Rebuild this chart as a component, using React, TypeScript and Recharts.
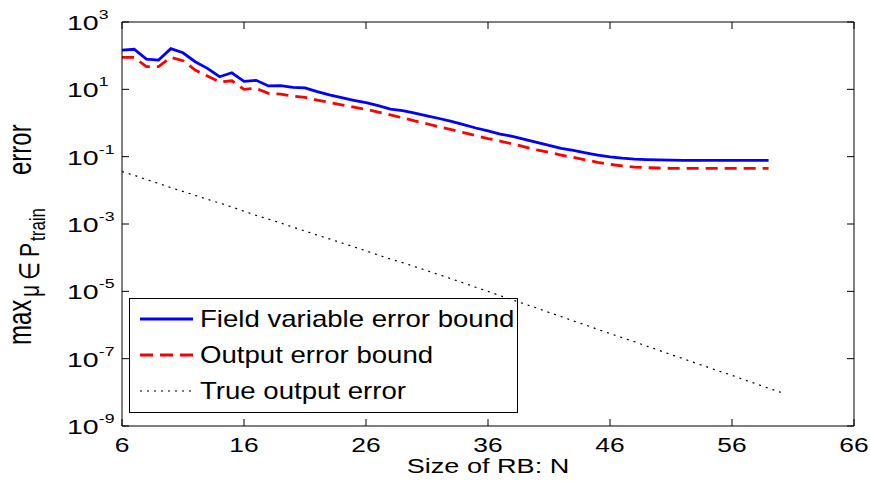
import React from "react";
import { LineChart, Line, XAxis, YAxis } from "recharts";

const sizeN = [6, 7, 8, 9, 10, 11, 12, 13, 14, 15, 16, 17, 18, 19, 20, 21, 22, 23, 24, 25, 26, 27, 28, 29, 30, 31, 32, 33, 34, 35, 36, 37, 38, 39, 40, 41, 42, 43, 44, 45, 46, 47, 48, 49, 50, 51, 52, 53, 54, 55, 56, 57, 58, 59, 60];

const fieldBound = [147, 155, 79, 74, 161, 122, 66, 42, 23.7, 31, 17.3, 18.5, 12.6, 12.8, 11.5, 11.0, 8.5, 6.8, 5.65, 4.73, 4.0, 3.27, 2.6, 2.33, 1.98, 1.64, 1.36, 1.11, 0.9, 0.71, 0.58, 0.47, 0.4, 0.324, 0.267, 0.215, 0.177, 0.153, 0.13, 0.112, 0.098, 0.09, 0.085, 0.082, 0.08, 0.079, 0.078, 0.078, 0.078, 0.078, 0.078, 0.078, 0.078, 0.078];

const outputBound = [89, 89, 47, 47, 89, 71, 37.5, 25, 16.5, 18, 10, 10.7, 7.6, 7.2, 6.3, 5.8, 4.8, 4.1, 3.45, 2.95, 2.55, 2.1, 1.75, 1.42, 1.15, 0.95, 0.77, 0.64, 0.52, 0.42, 0.345, 0.29, 0.24, 0.195, 0.16, 0.134, 0.112, 0.095, 0.08, 0.068, 0.059, 0.053, 0.049, 0.047, 0.046, 0.045, 0.045, 0.045, 0.045, 0.045, 0.045, 0.045, 0.045, 0.045];

const trueError = [3.6e-2, 2.8e-2, 2.1e-2, 1.6e-2, 1.2e-2, 9.3e-3, 7.1e-3, 5.4e-3, 4.2e-3, 3.2e-3, 2.4e-3, 1.8e-3, 1.4e-3, 1.07e-3, 8.1e-4, 6.2e-4, 4.7e-4, 3.6e-4, 2.75e-4, 2.1e-4, 1.6e-4, 1.2e-4, 9.1e-5, 7.1e-5, 5.4e-5, 4.1e-5, 3.1e-5, 2.35e-5, 1.78e-5, 1.32e-5, 1.0e-5, 7.4e-6, 5.6e-6, 4.2e-6, 3.2e-6, 2.35e-6, 1.78e-6, 1.32e-6, 1.0e-6, 7.4e-7, 5.6e-7, 4.2e-7, 3.2e-7, 2.35e-7, 1.78e-7, 1.32e-7, 1.0e-7, 7.4e-8, 5.6e-8, 4.2e-8, 3.2e-8, 2.35e-8, 1.78e-8, 1.32e-8, 1.0e-8];

const xTicks = [6, 16, 26, 36, 46, 56, 66];
const yTicks = [1e-9, 1e-7, 1e-5, 1e-3, 1e-1, 1e1, 1e3];
const yExponents = ["-9", "-7", "-5", "-3", "-1", "1", "3"];

const seriesNames = ["Field variable error bound", "Output error bound", "True output error"];

const data = sizeN.map((n, i) => ({
  n,
  field: fieldBound[i],
  output: outputBound[i],
  truth: trueError[i],
}));

const FONT = "'Liberation Sans', Arial, Helvetica, sans-serif";
const SX = 1.32;

const BottomTick = (props: any) => {
  const { x, y, payload } = props;
  return (
    <g>
      <line x1={x} x2={x} y1={y} y2={y - 7} stroke="#000" strokeWidth={1} />
      <g transform={`translate(${x},${y + 26}) scale(${SX},1)`}>
        <text x={0} y={0} textAnchor="middle" fontSize={20} fontFamily={FONT} fill="#000">
          {payload.value}
        </text>
      </g>
    </g>
  );
};

const TopTick = (props: any) => {
  const { x, y } = props;
  return <line x1={x} x2={x} y1={y} y2={y + 7} stroke="#000" strokeWidth={1} />;
};

const LeftTick = (props: any) => {
  const { x, y, payload } = props;
  const idx = yTicks.findIndex((t) => Math.abs(Math.log10(t) - Math.log10(payload.value)) < 1e-6);
  const exp = idx >= 0 ? yExponents[idx] : "";
  return (
    <g>
      <line x1={x} x2={x + 7} y1={y} y2={y} stroke="#000" strokeWidth={1} />
      <g transform={`translate(67,${y + 8}) scale(1.36,1)`}>
        <text x={0} y={0} fontSize={21} fontFamily={FONT} fill="#000">
          10
          <tspan dy={-11} fontSize={13}>
            {exp}
          </tspan>
        </text>
      </g>
    </g>
  );
};

const RightTick = (props: any) => {
  const { x, y } = props;
  return <line x1={x} x2={x - 7} y1={y} y2={y} stroke="#000" strokeWidth={1} />;
};

const LegendBox = () => (
  <g transform="translate(129,298)">
    <rect x={0.5} y={0.5} width={388} height={114} fill="#fff" stroke="#000" strokeWidth={1} />
    <line x1={11} x2={64} y1={21} y2={21} stroke="#0000ff" strokeWidth={2.8} />
    <line x1={11} x2={64} y1={57} y2={57} stroke="#ff0000" strokeWidth={2.8} strokeDasharray="13 7" />
    <line x1={11} x2={64} y1={93} y2={93} stroke="#000" strokeWidth={1.2} strokeDasharray="2 5" />
    {seriesNames.map((name, i) => (
      <g key={name} transform={`translate(71,${29 + i * 36}) scale(1.2,1)`}>
        <text x={0} y={0} fontSize={23} fontFamily={FONT} fill="#000">
          {name}
        </text>
      </g>
    ))}
  </g>
);

const YLabel = () => (
  <g transform={`translate(31,345) scale(1.35,1) rotate(-90)`}>
    <text fontFamily={FONT} fill="#000">
      <tspan x={0} y={0} fontSize={24}>max</tspan>
      <tspan x={48} y={6} fontSize={21}>μ</tspan>
      <tspan x={65} y={6} fontSize={21}>∈</tspan>
      <tspan x={88} y={6} fontSize={21}>P</tspan>
      <tspan x={104} y={10} fontSize={17}>train</tspan>
      <tspan x={170} y={0} fontSize={24}>error</tspan>
    </text>
  </g>
);

export default function App() {
  return (
    <div style={{ position: "absolute", left: 0, top: 0, background: "#fff" }}>
      <LineChart width={870} height={482} data={data} margin={{ top: 0, right: 0, bottom: 0, left: 0 }}>
        <XAxis
          xAxisId="b"
          dataKey="n"
          type="number"
          domain={[6, 66]}
          ticks={xTicks}
          height={56}
          axisLine={{ stroke: "#000", strokeWidth: 1 }}
          tickLine={false}
          tickSize={0}
          tickMargin={0}
          tick={<BottomTick />}
          interval={0}
          allowDataOverflow
        />
        <XAxis
          xAxisId="t"
          orientation="top"
          dataKey="n"
          type="number"
          domain={[6, 66]}
          ticks={xTicks}
          height={22}
          axisLine={{ stroke: "#000", strokeWidth: 1 }}
          tickLine={false}
          tickSize={0}
          tickMargin={0}
          tick={<TopTick />}
          interval={0}
          allowDataOverflow
        />
        <YAxis
          yAxisId="l"
          type="number"
          scale="log"
          domain={[1e-9, 1e3]}
          ticks={yTicks}
          width={122}
          axisLine={{ stroke: "#000", strokeWidth: 1 }}
          tickLine={false}
          tickSize={0}
          tickMargin={0}
          tick={<LeftTick />}
          interval={0}
          allowDataOverflow
        />
        <YAxis
          yAxisId="r"
          orientation="right"
          type="number"
          scale="log"
          domain={[1e-9, 1e3]}
          ticks={yTicks}
          width={16}
          axisLine={{ stroke: "#000", strokeWidth: 1 }}
          tickLine={false}
          tickSize={0}
          tickMargin={0}
          tick={<RightTick />}
          interval={0}
          allowDataOverflow
        />
        <Line
          xAxisId="b"
          yAxisId="l"
          dataKey="truth"
          stroke="#000"
          strokeWidth={1.2}
          strokeDasharray="2 5"
          dot={false}
          isAnimationActive={false}
        />
        <Line
          xAxisId="b"
          yAxisId="l"
          dataKey="output"
          stroke="#ff0000"
          strokeWidth={2.8}
          strokeDasharray="12 7"
          dot={false}
          isAnimationActive={false}
        />
        <Line
          xAxisId="b"
          yAxisId="l"
          dataKey="field"
          stroke="#0000ff"
          strokeWidth={2.8}
          dot={false}
          isAnimationActive={false}
        />
        <LegendBox />
        <YLabel />
        <g transform={`translate(488,473) scale(1.29,1)`}>
          <text x={0} y={0} textAnchor="middle" fontSize={21} fontFamily={FONT} fill="#000">
            Size of RB: N
          </text>
        </g>
      </LineChart>
    </div>
  );
}
